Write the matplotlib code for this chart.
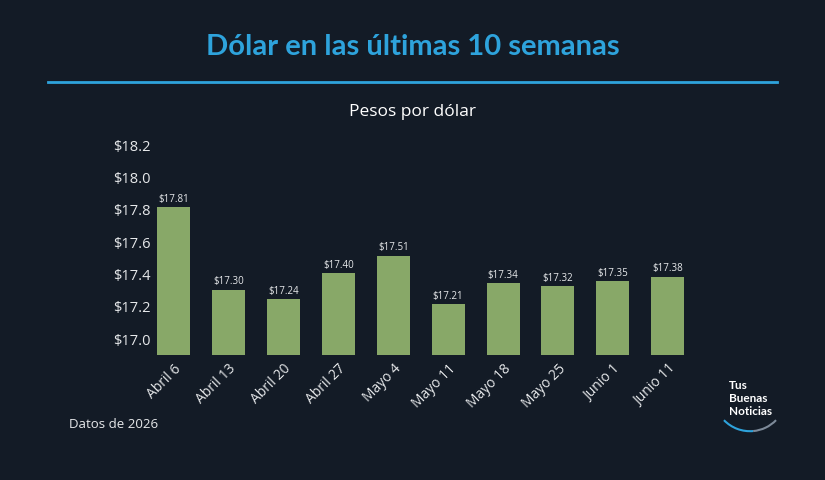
import matplotlib
matplotlib.use('Agg')
import matplotlib.pyplot as plt
from matplotlib.patches import Arc
from matplotlib.lines import Line2D

# Datos
semanas = ['Abril 6', 'Abril 13', 'Abril 20', 'Abril 27', 'Mayo 4',
           'Mayo 11', 'Mayo 18', 'Mayo 25', 'Junio 1', 'Junio 11']
pesos = [17.81, 17.30, 17.24, 17.40, 17.51, 17.21, 17.34, 17.32, 17.35, 17.38]
yticks = [17.0, 17.2, 17.4, 17.6, 17.8, 18.0, 18.2]

bg = '#131b26'
verde = '#88a868'
azul = '#2ea3dc'
texto = '#e6e8ea'
base = 16.895

plt.rcParams['font.family'] = ['Open Sans', 'DejaVu Sans']

fig = plt.figure(figsize=(8.25, 4.81), dpi=100, facecolor=bg)
ax = fig.add_axes([0.1772, 0.2599, 0.6655, 0.4553])
ax.set_facecolor(bg)

x = list(range(len(semanas)))
alturas = [v - base for v in pesos]
barras = ax.bar(x, alturas, width=0.6, color=verde, bottom=base)
for b, v in zip(barras, pesos):
    ax.text(b.get_x() + b.get_width() / 2, v + 0.02, f'${v:.2f}',
            ha='center', va='bottom', color=texto, fontsize=7)

ax.set_xlim(-0.5, len(semanas) - 0.5)
ax.set_ylim(base, 18.25)
ax.set_yticks(yticks)
ax.set_yticklabels([f'${t:.1f}' for t in yticks], color=texto, fontsize=10.5)
ax.set_xticks(x)
ax.set_xticklabels(semanas, rotation=45, ha='right', rotation_mode='anchor',
                   color=texto, fontsize=10)
ax.tick_params(axis='both', length=0)
ax.tick_params(axis='y', pad=-3)
ax.tick_params(axis='x', pad=4)
for s in ax.spines.values():
    s.set_visible(False)

# Títulos
fig.text(0.5, 1 - 47 / 481, 'Dólar en las últimas 10 semanas', ha='center',
         va='center', color=azul, fontsize=21, fontweight='bold',
         family=['Lato', 'DejaVu Sans'])
fig.add_artist(Line2D([48 / 825, 777 / 825], [1 - 83 / 481, 1 - 83 / 481],
                      color=azul, linewidth=2))
fig.text(0.5, 1 - 112 / 481, 'Pesos por dólar', ha='center', va='center',
         color='white', fontsize=12.5)
fig.text(69 / 825, 1 - 425 / 481, 'Datos de 2026', ha='left', va='center',
         color=texto, fontsize=9.5)

# Logo
fig.text(729 / 825, 1 - 380 / 481, 'Tus\nBuenas\nNoticias', ha='left', va='top',
         color='white', fontsize=8.5, fontweight='bold', linespacing=1.2,
         family=['Lato', 'DejaVu Sans'])
cx, cy, r = 750 / 100, (481 - 396) / 100, 36.2 / 100
fig.add_artist(Arc((cx, cy), 2 * r, 2 * r, theta1=224, theta2=275,
                   transform=fig.dpi_scale_trans, color=azul, linewidth=1.5))
fig.add_artist(Arc((cx, cy), 2 * r, 2 * r, theta1=275, theta2=316,
                   transform=fig.dpi_scale_trans, color='#7d8a99', linewidth=1.5))

plt.savefig('out.png', dpi=100, facecolor=bg)
